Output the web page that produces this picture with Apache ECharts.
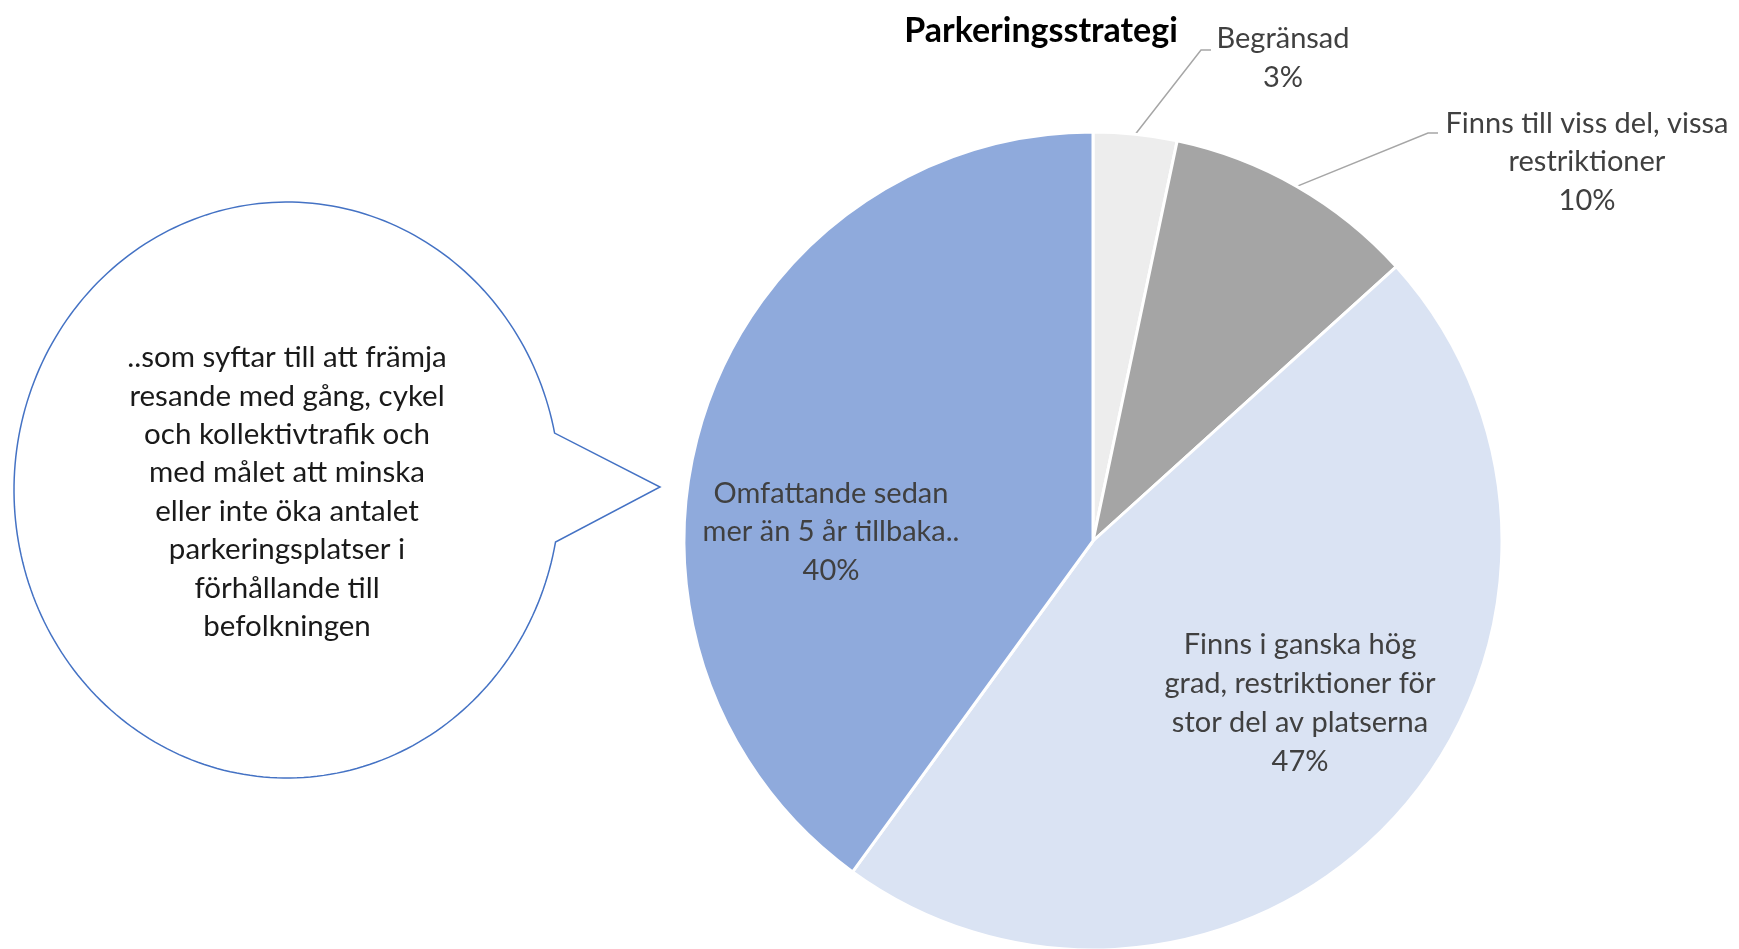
<!DOCTYPE html>
<html>
<head>
<meta charset="utf-8">
<script src="https://cdn.jsdelivr.net/npm/echarts@6.0.0/dist/echarts.min.js"></script>
<style>
  html, body { margin: 0; padding: 0; background: #fff; }
  #Parkering { width: 1739px; height: 949px; }
</style>
</head>
<body>
<div id="Parkering"></div>
<script>
// kategorier (medurs från kl 12)
let categories = [
  'Begränsad',
  'Finns till viss del, vissa\nrestriktioner',
  'Finns i ganska hög\ngrad, restriktioner för\nstor del av platserna',
  'Omfattande sedan\nmer än 5 år tillbaka..'
]
// andel i procent
let shares = [3.3, 10, 46.7, 40]
let colors = ['#ededed', '#a5a5a5', '#dae3f3', '#8faadc']
// text i pratbubblan
let bubbleLines = [
  '..som syftar till att främja',
  'resande med gång, cykel',
  'och kollektivtrafik och',
  'med målet att minska',
  'eller inte öka antalet',
  'parkeringsplatser i',
  'förhållande till',
  'befolkningen'
]

// etikettplacering (mitt på texten) och hävarmar
let labelPos = [
  { x: 1283, y: 58, line: [[1201, 50], [1211, 50]] },
  { x: 1587, y: 162, line: [[1428, 133], [1438, 133]] },
  { x: 1300, y: 703 },
  { x: 831, y: 532 }
]

let font = 'Lato, "Open Sans", sans-serif'

// pratbubbla: ellips med spets mot diagrammet
let bubble = { cx: 287, cy: 490, rx: 273, ry: 288, a0: -11.4, a1: 10.4, tip: [660, 487] }
let bubblePts = []
for (let i = 0; i <= 240; i++) {
  let a = (bubble.a0 - (360 - (bubble.a1 - bubble.a0)) * i / 240) * Math.PI / 180
  bubblePts.push([bubble.cx + bubble.rx * Math.cos(a), bubble.cy + bubble.ry * Math.sin(a)])
}
bubblePts.push(bubble.tip)

let myChart = echarts.init(document.getElementById('Parkering'))
myChart.setOption({
  animation: false,
  title: {
    text: 'Parkeringsstrategi',
    left: 1036,
    top: 9,
    textAlign: 'center',
    textStyle: {
      fontFamily: font,
      fontSize: 34,
      fontWeight: 'bold',
      color: '#000'
    }
  },
  graphic: [
    {
      type: 'polygon',
      shape: { points: bubblePts },
      style: {
        fill: '#fff',
        stroke: '#4472c4',
        lineWidth: 1.5
      }
    },
    {
      type: 'text',
      x: 287,
      y: 492,
      style: {
        text: bubbleLines.join('\n'),
        font: '29.5px ' + font,
        lineHeight: 38.4,
        fill: '#1a1a1a',
        align: 'center',
        verticalAlign: 'middle'
      }
    }
  ],
  series: [
    {
      type: 'pie',
      center: [1093, 541],
      radius: 409,
      startAngle: 90,
      clockwise: true,
      avoidLabelOverlap: false,
      itemStyle: {
        borderColor: '#fff',
        borderWidth: 3
      },
      label: {
        show: true,
        position: 'outside',
        fontFamily: font,
        fontSize: 29,
        lineHeight: 38.8,
        color: '#404040',
        align: 'center',
        formatter: function (p) {
          return p.name + '\n' + Math.round(p.percent) + '%'
        }
      },
      labelLine: {
        show: true,
        lineStyle: { color: '#a6a6a6', width: 1.5 }
      },
      labelLayout: function (params) {
        let p = labelPos[params.dataIndex]
        let res = { x: p.x, y: p.y, align: 'center', verticalAlign: 'middle' }
        if (p.line && params.labelLinePoints) {
          res.labelLinePoints = [params.labelLinePoints[0], p.line[0], p.line[1]]
        }
        return res
      },
      data: categories.map((c, i) => ({
        name: c,
        value: shares[i],
        itemStyle: { color: colors[i] },
        labelLine: { show: !!labelPos[i].line }
      }))
    }
  ]
})
</script>
</body>
</html>
